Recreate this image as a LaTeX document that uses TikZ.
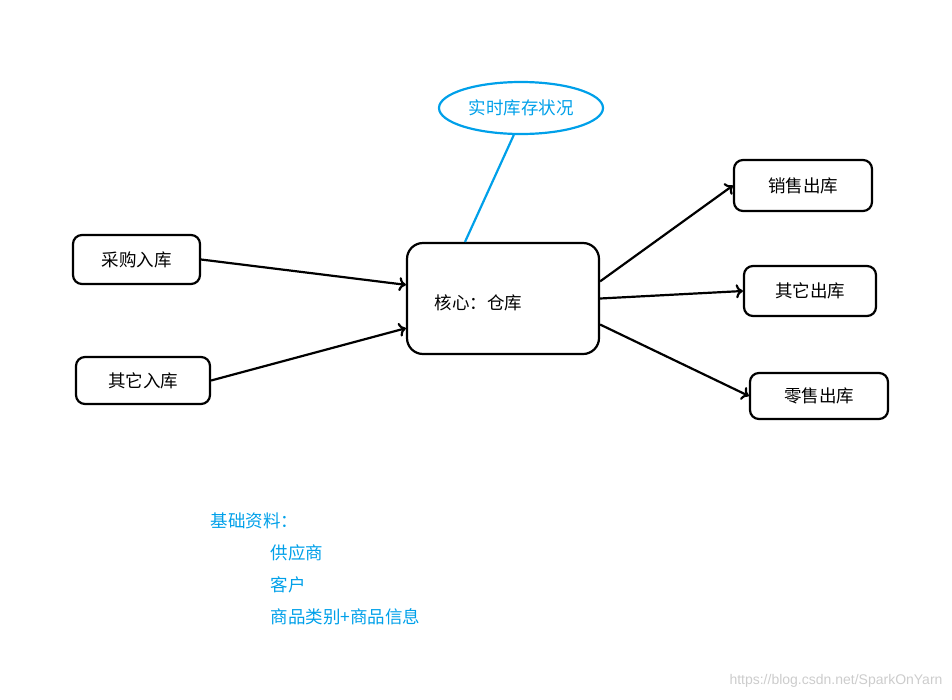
\documentclass[tikz,border=0pt]{standalone}
\usepackage{fontspec}
\newfontfamily\cjk{Noto Sans CJK SC}
\newfontfamily\wm{Liberation Sans}
\usetikzlibrary{shapes.geometric,arrows.meta}
\definecolor{myblue}{RGB}{0,160,233}
\begin{document}
\begin{tikzpicture}[x=1pt,y=-1pt,font=\cjk\fontsize{17.5}{20}\selectfont,
  box/.style={draw,line width=2.2pt,rounded corners=9pt,inner sep=0pt},
  arr/.style={line width=2.2pt,-{To[length=7pt,width=14pt]}},
  bl/.style={text=myblue,anchor=west}]
\useasboundingbox (0,0) rectangle (952,699);
\node[box,minimum width=127pt,minimum height=49pt] (cg) at (136.5,259.5) {采购入库};
\node[box,minimum width=134pt,minimum height=47pt] (qr) at (143,380.5) {其它入库};
\node[box,minimum width=192pt,minimum height=111pt,rounded corners=16pt] (core) at (503,298.5) {};
\node[anchor=west] (coret) at (431,303) {核心：仓库};
\node[box,minimum width=138pt,minimum height=51pt] (xs) at (803,185.5) {销售出库};
\node[box,minimum width=132pt,minimum height=50pt] (qc) at (810,291) {其它出库};
\node[box,minimum width=138pt,minimum height=46pt] (ls) at (819,396) {零售出库};
\node[ellipse,draw=myblue,line width=2.2pt,text=myblue,minimum width=164pt,minimum height=52pt,inner sep=0pt] (st) at (521,108) {实时库存状况};
\draw[myblue,line width=2.2pt] (st.255) -- (core.north west -| 465,0);
\draw[arr] (cg.east) -- (core.172);
\draw[arr] (qr.east) -- (core.197);
\draw[arr] (core.10) -- (xs.west);
\draw[arr] (core.east) -- (qc.west);
\draw[arr] (core.345) -- (ls.west);
\node[bl] (j) at (207,521) {基础资料：};
\node[bl] (g) at (267,553) {供应商};
\node[bl] (k) at (267,585) {客户};
\node[bl] (s) at (267,617) {商品类别+商品信息};
\node[anchor=east,text=gray!40,font=\wm\fontsize{14}{16}\selectfont] (w) at (946,681) {https://blog.csdn.net/SparkOnYarn};
\end{tikzpicture}
\end{document}
